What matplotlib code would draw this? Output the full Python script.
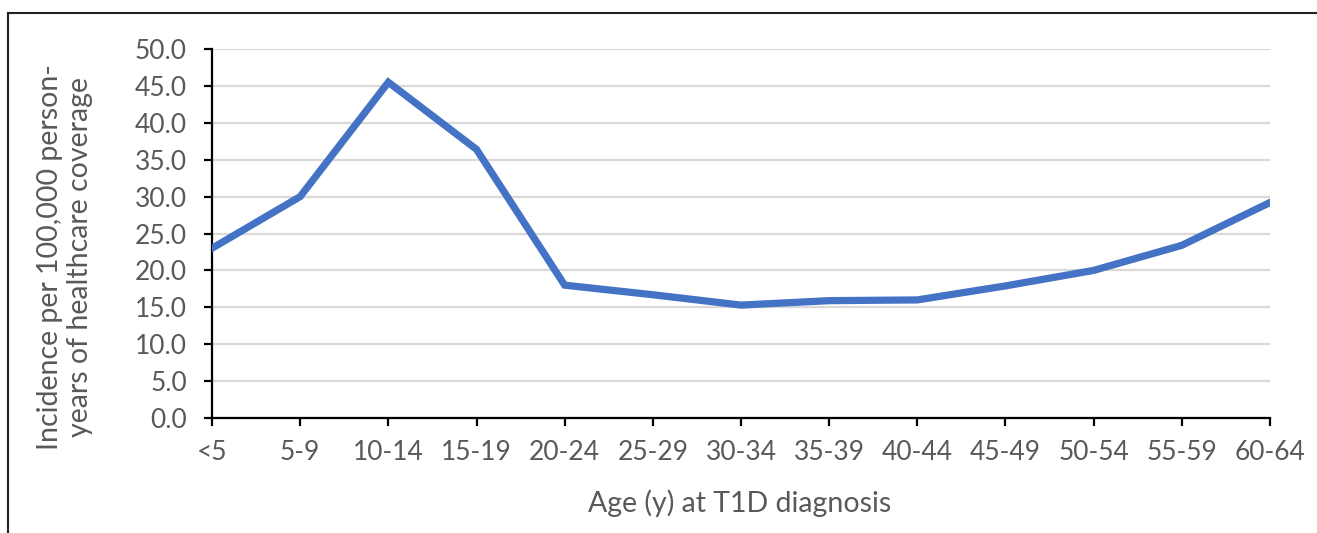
import matplotlib
matplotlib.use('Agg')
import matplotlib.pyplot as plt
from matplotlib.lines import Line2D

age_groups = ['<5', '5-9', '10-14', '15-19', '20-24', '25-29', '30-34',
              '35-39', '40-44', '45-49', '50-54', '55-59', '60-64']
incidence = [23.0, 30.0, 45.5, 36.4, 18.0, 16.7, 15.3, 15.9, 16.0, 17.9, 20.0, 23.4, 29.2]
y_ticks = [0, 5, 10, 15, 20, 25, 30, 35, 40, 45, 50]

plt.rcParams['font.family'] = ['Lato', 'DejaVu Sans']
grey = '#595959'

fig = plt.figure(figsize=(13.17, 5.33), dpi=100)
ax = fig.add_axes([212 / 1317, 1 - 418 / 533, (1270 - 212) / 1317, (418 - 49) / 533])

x = list(range(len(age_groups)))
ax.plot(x, incidence, color='#4472C4', linewidth=5.2, solid_joinstyle='miter', zorder=3)

ax.set_xlim(0, len(age_groups) - 1)
ax.set_ylim(0, 50)
ax.set_xticks(x)
ax.set_xticklabels(age_groups)
ax.set_yticks(y_ticks)
ax.set_yticklabels([f'{v:.1f}' for v in y_ticks])
ax.yaxis.grid(True, color='#d9d9d9', linewidth=1.6)
ax.set_axisbelow(True)

for s in ['top', 'right']:
    ax.spines[s].set_visible(False)
for s in ['left', 'bottom']:
    ax.spines[s].set_linewidth(1.6)
    ax.spines[s].set_color('black')
ax.tick_params(axis='both', direction='out', length=6, width=1.6, color='black',
               labelcolor=grey, labelsize=19)
ax.tick_params(axis='x', pad=10)
ax.tick_params(axis='y', pad=12)

ax.set_xlabel('Age (y) at T1D diagnosis', fontsize=20.5, color=grey)
ax.xaxis.label.set_va('center')
ax.xaxis.set_label_coords(0.499, -0.230)
ax.set_ylabel('Incidence per 100,000 person-\nyears of healthcare coverage',
              fontsize=20.5, color=grey, linespacing=1.15)
ax.yaxis.label.set_va('center')
ax.yaxis.set_label_coords(-0.139, 0.436)

# outer frame
fig.add_artist(Line2D([8 / 1317, 1], [1 - 13 / 533, 1 - 13 / 533], color='#222222', linewidth=1.5))
fig.add_artist(Line2D([8 / 1317, 8 / 1317], [0, 1 - 13 / 533], color='#222222', linewidth=1.5))

fig.savefig('out.png', dpi=100)
